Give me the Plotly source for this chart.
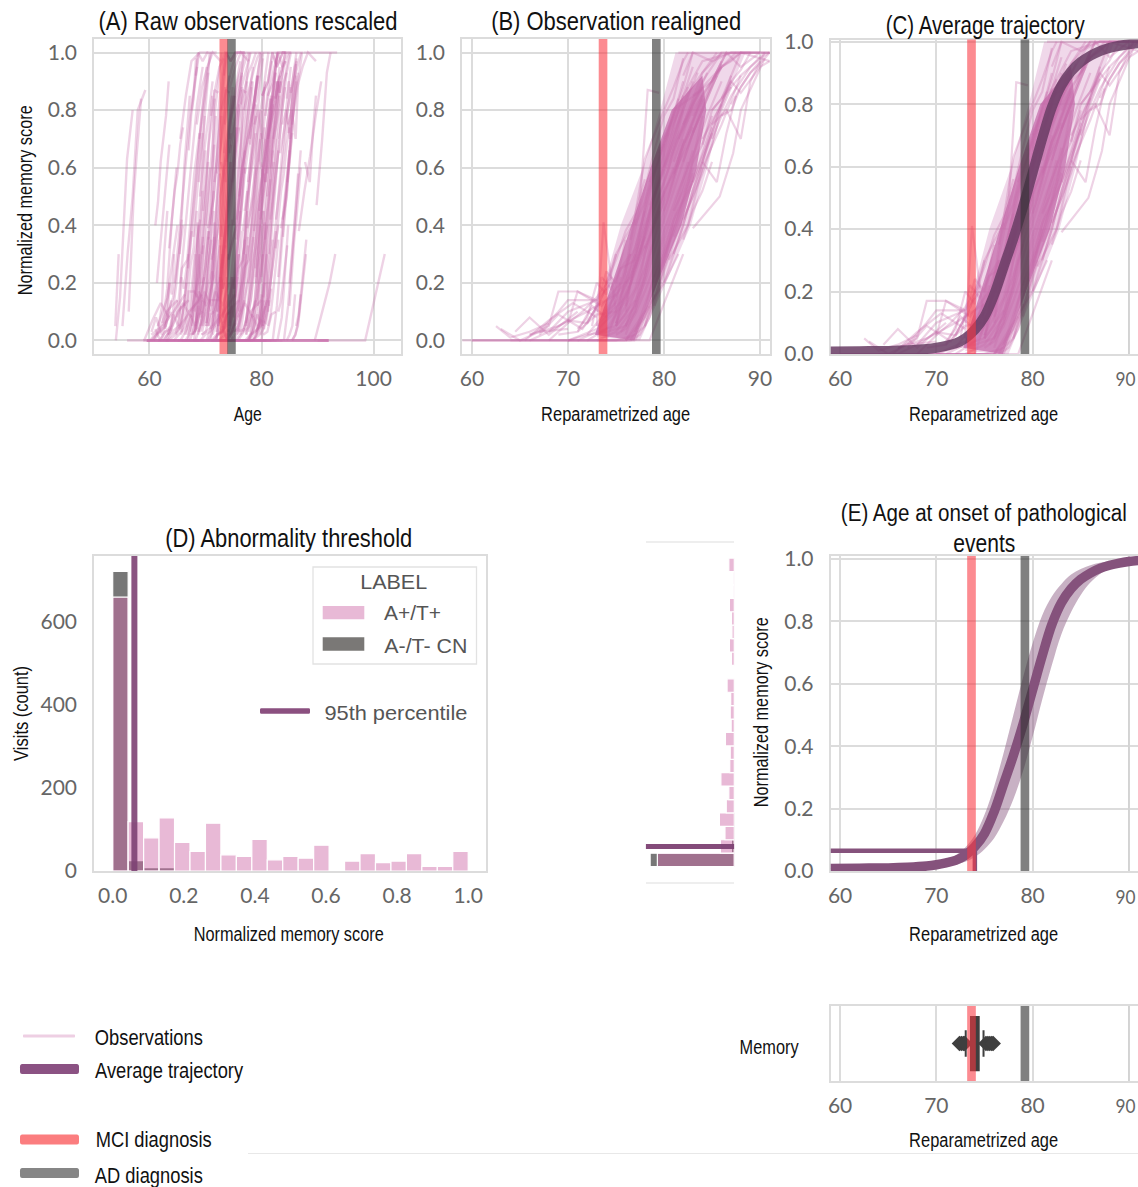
import json
import plotly.graph_objects as go

W, H = 1138, 1187

# ---- data ----
mci_band_raw = [72.5, 74.0]
ad_band_raw = [73.9, 75.4]
mci_band = [73.2, 74.1]
ad_band = [78.75, 79.65]
threshold_score = 0.065
threshold_age = 74.0

visit_ages = [
[70,78.5,82],[76,80,81.5],[78.5,81.5,84,86],[75,77,79,81,84],[74,75.5,78,80],[76,78.2,79.5,81.5],[75,76.5],[80,82,84,87,90],
[77,79,81,83.5],[75,77,79,81],[76,78,80,82,84],[72,74.5,76.5,78.5],[70,73,75,77],[66,69,72,75],[68,70,71,73.5,75.5],[63,65,67,70],
[65.5,68,70.5,73],[71,72.5,74,75.5],[73,73.7,75],[74,75.5,77,79,80.5],[78,80,82,84,86],[79,81,83,85,87],[80.5,82.5,84,86,88],[83,85.8,87.2,88,90.5],
[84,85.5,86.5,87.5],[85,86.5,88,89,90.5],[81.5,84,87,91],[82,83,85,87,89,91],[83,85,86.5,88,90,91],[82,84,86,88,91],[60,64,68,72,76],[59,65,70,75,77],
[60,66,71,74,76.5],[64,68,72,75,77,78.5],[73,75,77,78,79.5],[75.5,77,78,79,80],[76,77.5,79,80.5,82],[76.5,78,79.5,81,82.5],[77,78.5,80,81.5,83],[77,79,81,83],
[78,79.5,81,82.5,84],[74,76,77.5,79,80.5,82],[75,76.5,78,79.5,81,82.5],[76,77,78.5,80,81.5,83],[77.5,78.5,79.5,80.5,82],[77,78,79,80,81,82],[76.5,77.5,78.3,79.5],[78.5,80,81.5,83,84.5],
[79,80.5,82,83.5,85,86.5],[80,81,82,83,84],[80,81.5,83,84.5,86],[81,82,83.5,85],[81,82.5,84,85.5],[81.5,83,84.5,86,87.5],[79.5,81,82.5,84,85.5],[78.5,80,81,82,83],
[80,81,82,82.5],[72,73.5,75,76.5,78],[73,74.5,76,77.5,79],[74,75,76,77,78],[75,76,77,78,79],[75,76,77,78,79,80],[76,77,78,79,80,81],[76,77,78,79],
[76.5,77.5,78.5,79.5,80.5],[70,72,74,76,78],[71,73,75,77],[69,71,73,75],[67,69,71.5,73.5],[66,68,70,73],[72.5,73.5,74.5,75.5,76.5],[73,74,75,76,77,78],
[79,80,81,82,83,84],[78,79,80,81,82,83],[79,80,81,82,83],[80,81,82,83,84,85],[81,82,83,84,85,86],[82,83,84,85,86,87],[83,84,85,86,87],[84,85,86,87,88,89],
[85,86,87,88,89,90,91],[86,87,88,90,91],[76,77,78.5,80],[75,76,77.5,79],
[66,68,69,71,73],[67,69,70,73,74.5],[62.5,64,66,68],[64.5,66,68,71],[68,70,72,74],[70,71.5,73,74.5],[71,72,73,74,75],[72,73,74,75,76],
[73,74,75,76,77],[74,75,76,77,78],[84,85,86,87,88],[85,86,87,88,89,90],[86,87,88,89,90.5],[83,84,85,86,87,88,89],[84,85,86,87,88,90],[87,88,89,90,91],
[83,84,85,86],[82,83,84,85,86],[81,82,83,84],[80,81,82,83],[79,80,81,82],[81,82,83,84,85],[82,83,84,85],[79,80,81,82,83,84],
]
visit_scores = [
[0,0,.3],[0,.2,.3],[.47,.7,.93,1],[.05,.3,.5,.8,.87],[0,.15,.63,.8],[.1,.5,.64,.84],[.05,.3],[.7,.85,.97,1,1],
[.25,.5,.72,.93],[.06,.18,.42,.6],[.05,.22,.5,.68,.85],[0,.05,.2,.42],[0,.04,.1,.3],[.02,.05,.1,.16],[0,.06,.17,.12,.2],[.04,0,.03,.04],
[0,.07,.13,.08],[.03,.12,.08,.22],[.05,.41,.1],[.08,.25,.28,.58,.72],[.2,.42,.62,.82,.95],[.22,.42,.55,.75,.9],[.28,.4,.6,.75,.92],[.39,.5,.65,.8,.98],
[.62,.55,.72,.85],[.75,.8,.7,.9,1],[1,1,1,1],[.92,1,.97,1,1,1],[.85,.9,1,.95,1,1],[.75,.88,.95,1,.97],[0,0,0,0,0],[0,0,0,0,0],
[0,0,0,0,0],[0,0,0,0,.02,.12],[0,.03,.12,.3,.45],[.03,.1,.24,.4,.52],[.02,.15,.35,.5,.7],[0,.1,.3,.45,.62],[0,.12,.3,.48,.66],[.03,.22,.38,.6],
[.05,.2,.4,.55,.78],[.04,.14,.3,.45,.6,.8],[.06,.2,.36,.55,.7,.88],[.12,.28,.44,.62,.8,.95],[.3,.45,.6,.7,.85],[.4,.48,.62,.7,.78,.9],[.35,.48,.87,.86],[.42,.55,.7,.82,.93],
[.4,.52,.66,.8,.9,1],[.45,.55,.68,.76,.84],[.38,.52,.64,.78,.9],[.36,.46,.6,.72],[.58,.68,.8,.92],[.7,.8,.88,.95,1],[.65,.76,.86,.93,1],[.55,.68,.78,.88,1],
[.8,.88,.97,1],[.02,.08,.16,.22,.36],[.05,.1,.15,.28,.4],[.1,.13,.19,.26,.33],[.05,.09,.17,.25,.35],[.02,.04,.09,.17,.26,.38],[0,.04,.08,.18,.28,.4],[0,.02,.05,.16],
[0,.02,.08,.2,.3],[0,.02,.03,.05,.2],[0,.03,.05,.14],[.02,.03,.09,.1],[.02,.09,.04,.14],[0,.03,.1,.14],[.05,.22,.18,.25,.3],[.03,.07,.14,.26,.32,.45],
[.5,.6,.68,.75,.83,.9],[.32,.42,.52,.58,.68,.74],[.2,.28,.38,.48,.58],[.2,.3,.4,.52,.62,.74],[.3,.4,.52,.62,.72,.82],[.42,.5,.58,.68,.8,.88],[.55,.62,.72,.82,.92],[.7,.76,.82,.9,.94,1],
[.8,.84,.88,.92,.95,.98,1],[.84,.9,.86,.95,.97],[.2,.32,.52,.68],[.15,.24,.46,.66],
[.02,.05,.17,.17,.14],[.03,.1,.14,.14,.2],[.05,.01,.03,.06],[.03,.08,.02,.1],[.03,.07,.06,.18],[.06,.1,.15,.22],[.04,.08,.2,.16,.3],[.06,.12,.24,.2,.35],
[.1,.2,.3,.36,.42],[.2,.28,.38,.44,.56],[.68,.8,.84,.92,1],[.7,.78,.8,.88,.93,.97],[.78,.85,.9,.95,1],[.78,.85,.9,.95,.97,1,1],[.9,.95,1,1,1,1],[.82,.88,.93,.96,1],
[.72,.8,.88,.96],[.62,.72,.8,.9,.97],[.62,.72,.82,.88],[.6,.7,.8,.9],[.66,.78,.84,.98],[.45,.52,.62,.68,.78],[.35,.45,.52,.62],[.12,.24,.34,.42,.5,.6],
]
subject_onsets = [99,91.5,90,57,56.5,57.5,55.5,65,68,64,72,75,78,69,73,80,67,71,74,79,66,83,70,76,85,82,86,72,78,84,74,82,85,66,63,77,81,69,85,73,68,80,75,83,70,62,77,84,71,79,86,67,76,82,74,69,81,72,65,78,83,70,75,87,80,73,66,84,77,71,68,81,76,64,85,72,79,74,83,78,70,80,63,82,
                  72,76,80,68,84,78,66,74,70,82,75,72,77,69,80,71,83,78,73,81,67,76,79,85]
subject_speeds = [1,1.5,3,2.2,2,2.5,2.5,2,1.8,2.4,1.6,2.1,2.6,1.5,1.9,2.3,1.7,2.8,2.2,1.6,2,2.5,1.4,2.7,1.8,2.2,1.6,2.4,1.9,2.1,2.3,1.8,2,1.5,2.6,2.2,1.7,2.4,2,1.9,2.7,1.6,2.3,1.8,2.5,2.1,1.7,2.2,2.6,1.9,1.5,2.4,2,2.8,1.6,2.3,1.9,2.1,1.7,2.5,2.2,1.8,2.6,2,1.6,2.3,1.9,2.7,2.1,1.5,2.4,1.8,2.2,2,2.6,1.7,2.3,1.9,2.5,1.6,2.1,2.8,1.8,2.4,
                  2,1.7,2.4,1.9,2.2,1.6,2.5,1.8,2.1,2.3,1.7,2.6,1.9,2,2.4,1.5,2.2,1.8,2.7,1.6,2.3,2,1.9,2.5]
# further subjects seen only in the raw panel: same score shapes, other ages (from the 9th subject on)
more_onsets_a = [74,70,79,66,81,72,76,68,82,75,71,78,65,80,73,69,77,81,74,67,79,72,76,70,83,75,80,71,78,73,81,77,70,74,79,68,82,76,72,80,75,69,78,83,71,77,73,81,67,79,74,70,82,76,72,80,68,75,78,71,83,73,77,69,81,74,79,72,76,80,70,78,74,82,71,77]
more_onsets_b = [80,76,72,82,69,78,74,81,71,77,83,68,75,79,73,82,70,76,80,72,78,67,84,74,71,81,76,69,79,73,83,75,71,78,72,81,66,77,74,82,70,79,76,72,80,68,83,75,78,71,81,73,77,70,84,74,79,67,82,76,72,80,75,78,69,83,71,77,73,81,76,79,72,80,74,70]
# low-score subjects, raw panel only (from the 58th subject on)
low_onsets_a = [78,66,85,71,82,68,75,87,64,80,73,84,69,77,72]
low_onsets_b = [70,83,74,88,67,79,86,72,81,65,76,69,84,75,80]
raw_flat_ages = [59.5, 92]
raw_flat_scores = [0, 0]

outer_ages = [73,77.5,80.2,82.8,84.5,86,88.5,81.2,79.6,77.8,75.5,73.8,73]
outer_scores = [.01,.0,.2,.4,.6,.8,1,1,.8,.6,.4,.2,.01]
core_ages = [72.8,76.9,79.3,81.8,83.4,84.4,84,80.8,78.6,76.6,74.6,72.8]
core_scores = [.02,.0,.2,.4,.6,.8,.92,.8,.6,.4,.2,.02]

traj_ages = [59,62,65,67,69,70,71,72,73,74,75,76,77,78,79,80,81,82,83,84,85,86,87,88,89,90,91]
traj_vals = [.008,.009,.01,.012,.016,.02,.026,.034,.05,.078,.12,.19,.28,.37,.47,.58,.69,.79,.86,.905,.935,.955,.97,.98,.987,.992,.995]
ci_upper = [.009,.01,.011,.014,.02,.025,.035,.05,.075,.115,.18,.27,.38,.5,.62,.73,.82,.88,.92,.95,.968,.98,.988,.993,.996,.998,.999]
ci_lower = [.007,.008,.009,.009,.011,.012,.016,.022,.03,.045,.07,.105,.16,.23,.32,.43,.55,.66,.76,.83,.885,.925,.952,.97,.982,.99,.992]

pos_counts = [660,119,80,128,69,47,115,39,35,76,27,35,31,62,0,24,42,20,24,42,11,11,47]
neg_counts = [722,25,8,8,0,0,0,0,0,0,0,0,0,0,0,0,0,0,0,0,0,0,0]
bin_centers = [(i + .5) / 23 for i in range(23)]
percentile_95 = 0.061

onset_q1, onset_median, onset_q3 = 73.6, 74.0, 74.4
onset_whiskers = [73.05, 74.9]
onset_fliers = [72.4, 72.6, 72.8, 72.95, 75.15, 75.35, 75.55, 75.75, 75.9]

# ---- styling ----
OBS = "rgba(200,105,170,0.3)"
CORE = "rgba(198,110,172,0.75)"
OUTER = "rgba(205,125,185,0.3)"
MCI = "rgba(250,55,65,0.58)"
AD = "rgba(50,50,50,0.62)"
TRAJ_C = "rgba(105,60,100,0.85)"
TRAJ_E = "#85527c"
GRID = "#dcdcdc"
TICK = "#666666"
SANS = "Liberation Sans"
TICKFONT = dict(family="Lato", size=21, color=TICK)

fig = go.Figure()

def px(x): return x / W
def py(y): return 1 - y / H

def axes(n, box, xr, yr, xt, yt, grid=True, xl=None):
    l, t, r, b = box
    s = "" if n == 1 else str(n)
    fig.layout["xaxis" + s] = dict(domain=[px(l), px(r)], range=xr, tickvals=xt, ticktext=xl or [str(v) for v in xt], showgrid=grid, gridcolor=GRID, gridwidth=1.5,
        zeroline=False, showline=True, mirror=True, linecolor=GRID, linewidth=1.5, ticks="outside", ticklen=5, tickcolor="rgba(0,0,0,0)",
        tickfont=TICKFONT, anchor="y" + s, automargin=False, layer="below traces", ticklabeloverflow="allow")
    fig.layout["yaxis" + s] = dict(domain=[py(b), py(t)], range=yr, tickvals=yt, showgrid=grid, gridcolor=GRID, gridwidth=1.5,
        zeroline=False, showline=True, mirror=True, linecolor=GRID, linewidth=1.5, ticks="outside", ticklen=11, tickcolor="rgba(0,0,0,0)",
        tickfont=TICKFONT, tickformat=".1f", anchor="x" + s, automargin=False, layer="below traces", ticklabeloverflow="allow")
    return "x" + s, "y" + s

SCORE_T = [0, .2, .4, .6, .8, 1]
REP_T = [60, 70, 80, 90]
REP_L = ["60", "70", "80", ""]
xa, ya = axes(1, (94, 39, 401, 354), [50.1, 104.9], [-.047, 1.047], [60, 80, 100], SCORE_T)
xb, yb = axes(2, (462, 39, 770, 354), [58.96, 91.04], [-.047, 1.047], REP_T, SCORE_T)
xc, yc = axes(3, (830.5, 39.5, 1138, 354), [59, 90.95], [0, 1.007], REP_T, SCORE_T, xl=REP_L)
xd, yd = axes(4, (94, 556, 486, 871), [-.0526, 1.05], [0, 759], [0, .2, .4, .6, .8, 1], [0, 200, 400, 600], grid=False, xl=["0.0", "0.2", "0.4", "0.6", "0.8", "1.0"])
xm, ym = axes(5, (645.7, 543, 734.3, 881.7), [760, 0], [-.049, 1.049], [], [], grid=False)
xe, ye = axes(6, (830.5, 556, 1138, 871), [59, 90.95], [0, 1.0096], REP_T, SCORE_T, xl=REP_L)
xs, ys = axes(7, (830.5, 1006, 1138, 1081), [59, 90.95], [-.5, .5], REP_T, [], xl=REP_L)
fig.layout.yaxis4.tickformat = "d"
fig.layout.xaxis5.linecolor = "#eeeeee"
fig.layout.yaxis5.showline = False
fig.layout.yaxis7.showgrid = False

def line(x, y, xr, yr, color, width, **kw):
    fig.add_trace(go.Scatter(x=x, y=y, xaxis=xr, yaxis=yr, mode="lines", line=dict(color=color, width=width, **kw),
                             showlegend=False, hoverinfo="skip", cliponaxis=True))

# gridline at 90 on the three panels that end at the page edge
line([90, 90], [0, 1.007], xc, yc, "#d2d2d2", 1.5)
line([90, 90], [0, 1.0096], xe, ye, "#d2d2d2", 1.5)
line([90, 90], [-.5, .5], xs, ys, "#d2d2d2", 1.5)

# observations: realigned panels use visit ages; the raw panel maps them back per subject
for ages, scores, onset, speed in zip(visit_ages, visit_scores, subject_onsets, subject_speeds):
    line([onset + (a - 79) / speed for a in ages], scores, xa, ya, OBS, 2.4)
for more in (more_onsets_a, more_onsets_b):
    for ages, scores, onset, speed in zip(visit_ages[8:], visit_scores[8:], more, subject_speeds[8:]):
        line([onset + (a - 79) / speed for a in ages], scores, xa, ya, OBS, 2.4)
for more in (low_onsets_a, low_onsets_b):
    for ages, scores, onset, speed in zip(visit_ages[57:], visit_scores[57:], more, subject_speeds[57:]):
        line([onset + (a - 79) / speed for a in ages], scores, xa, ya, OBS, 2.4)
line(raw_flat_ages, raw_flat_scores, xa, ya, "rgba(200,105,170,0.75)", 3)
for xr, yr in ((xb, yb), (xc, yc)):
    for ax_, sc_, col_ in ((outer_ages, outer_scores, OUTER), (core_ages, core_scores, CORE)):
        fig.add_trace(go.Scatter(x=ax_, y=sc_, xaxis=xr, yaxis=yr, mode="none", fill="toself", fillcolor=col_,
                                 showlegend=False, hoverinfo="skip"))
    for ages, scores in zip(visit_ages, visit_scores):
        line(ages, scores, xr, yr, OBS, 2.2)

line(traj_ages, traj_vals, xc, yc, TRAJ_C, 10, shape="spline")

# histogram and mirrored marginal
for xr, yr, orient in ((xd, yd, "v"), (xm, ym, "h")):
    for counts, color in ((neg_counts, "rgb(119,119,119)"), (pos_counts, "rgba(206,106,168,0.47)")):
        fig.add_trace(go.Bar(x=bin_centers if orient == "v" else counts, y=counts if orient == "v" else bin_centers,
                             orientation=orient, width=1 / 23, xaxis=xr, yaxis=yr, marker=dict(color=color, line=dict(color="white", width=1.2)),
                             showlegend=False, hoverinfo="skip"))
fig.update_layout(barmode="overlay")
line([percentile_95, percentile_95], [0, 759], xd, yd, "rgba(125,65,115,0.9)", 6)
line([0, 760], [percentile_95 + .004, percentile_95 + .004], xm, ym, "rgba(125,65,115,0.95)", 5)

# panel E
line(traj_ages, ci_lower, xe, ye, "rgba(0,0,0,0)", 0, shape="spline")
fig.add_trace(go.Scatter(x=traj_ages, y=ci_upper, xaxis=xe, yaxis=ye, mode="lines", line=dict(color="rgba(0,0,0,0)", width=0, shape="spline"),
                         fill="tonexty", fillcolor="rgba(133,82,124,0.45)", showlegend=False, hoverinfo="skip"))
line(traj_ages, traj_vals, xe, ye, TRAJ_E, 9.5, shape="spline")
line([59, threshold_age, threshold_age], [threshold_score, threshold_score, 0], xe, ye, TRAJ_E, 4.5)

# onset box
fig.add_trace(go.Box(orientation="h", y=[0], q1=[onset_q1], median=[onset_median], q3=[onset_q3], lowerfence=[onset_whiskers[0]],
                     upperfence=[onset_whiskers[1]], width=.71, whiskerwidth=.5, xaxis=xs, yaxis=ys, fillcolor="#3f3f3f",
                     line=dict(color="#3f3f3f", width=2), boxpoints=False, showlegend=False, hoverinfo="skip"))
fig.add_trace(go.Scatter(x=onset_fliers, y=[0] * len(onset_fliers), xaxis=xs, yaxis=ys, mode="markers",
                         marker=dict(symbol="diamond", size=12, color="#3f3f3f"), showlegend=False, hoverinfo="skip"))

# diagnosis bands
shapes = []
def band(xr, yr, lim, color):
    shapes.append(dict(type="rect", xref=xr, yref=yr + " domain", x0=lim[0], x1=lim[1], y0=0, y1=1, fillcolor=color, line=dict(width=0), layer="above"))
band(xa, ya, mci_band_raw, MCI); band(xa, ya, ad_band_raw, AD)
for xr, yr in ((xb, yb), (xc, yc), (xe, ye), (xs, ys)):
    band(xr, yr, mci_band, MCI); band(xr, yr, ad_band, AD)

def rect(l, t, r, b, fill, lc=None):
    shapes.append(dict(type="rect", xref="paper", yref="paper", x0=px(l), x1=px(r), y0=py(b), y1=py(t), fillcolor=fill,
                       line=dict(color=lc or "rgba(0,0,0,0)", width=1.3 if lc else 0), layer="above"))

def pill(l, r, y, h, color):
    rad = h / 2
    k = [(l + rad, y - rad), (r - rad, y - rad), (r, y - rad), (r, y), (r, y + rad), (r - rad, y + rad), (l + rad, y + rad), (l, y + rad), (l, y), (l, y - rad), (l + rad, y - rad)]
    p = [(px(a), py(b)) for a, b in k]
    path = "M{0},{1} L{2},{3} ".format(*p[0], *p[1])
    path += "C{0},{1} {2},{3} {4},{5} ".format(*p[2], *p[2], *p[3])
    path += "C{0},{1} {2},{3} {4},{5} ".format(*p[4], *p[4], *p[5])
    path += "L{0},{1} ".format(*p[6])
    path += "C{0},{1} {2},{3} {4},{5} ".format(*p[7], *p[7], *p[8])
    path += "C{0},{1} {2},{3} {4},{5} Z".format(*p[9], *p[9], *p[10])
    shapes.append(dict(type="path", xref="paper", yref="paper", path=path, fillcolor=color, line=dict(width=0), layer="above"))

# legend of panel D
rect(313, 567, 476.5, 664, "rgba(255,255,255,0.9)", "#e2e2e2")
rect(322.7, 606, 364.3, 619.3, "#e8b9d6")
rect(322.7, 637.3, 364.3, 650.7, "#7a7876")
pill(260, 310, 711, 5.5, "#8b5080")
# figure legend
pill(23, 75, 1036, 3, "#eecfe3")
pill(20, 79, 1069, 10, "#8b5283")
pill(20, 79, 1139.5, 10, "#fb7d7f")
pill(20, 79, 1173, 10, "#868686")
shapes.append(dict(type="line", xref="paper", yref="paper", x0=px(248), x1=1, y0=py(1153.5), y1=py(1153.5), line=dict(color="#e8e8e8", width=1)))
fig.update_layout(shapes=shapes)

widths = {}
def text(s, x, y, size, w, color="#111111", angle=0, family=SANS):
    widths[s] = w
    fig.add_annotation(text=s, xref="paper", yref="paper", x=px(x), y=py(y), showarrow=False, textangle=angle, xanchor="center", yanchor="middle",
                       font=dict(family=family, size=size, color=color), borderpad=0, borderwidth=0)

TITLE = 26
text("(A) Raw observations rescaled", 247.5, 21, TITLE, 299)
text("(B) Observation realigned", 616, 21, TITLE, 250)
text("(C) Average trajectory", 984.5, 25, TITLE, 199)
text("(D) Abnormality threshold", 288.5, 538, TITLE, 247)
text("(E) Age at onset of pathological", 984, 513, 23, 286)
text("events", 984, 543, TITLE, 62)
LAB = 20
text("Age", 248, 414, LAB, 28)
text("Reparametrized age", 615.5, 414, LAB, 149)
text("Reparametrized age", 983, 414, LAB, 149)
text("Normalized memory score", 25, 201, LAB, 190, angle=-90)
text("Visits (count)", 21, 714, LAB, 95, angle=-90)
text("Normalized memory score", 288, 934, LAB, 190)
text("Normalized memory score", 761, 713, LAB, 190, angle=-90)
text("Reparametrized age", 983, 934, LAB, 149)
text("Reparametrized age", 983, 1140, LAB, 149)
text("Memory", 769, 1047, LAB, 59)
text("Observations", 149, 1037, 22, 108)
text("Average trajectory", 169, 1070, 22, 148)
text("MCI diagnosis", 153, 1139, 22, 116)
text("AD diagnosis", 149, 1175, 22, 108)
GL = "#555555"
text("LABEL", 393.5, 582, 21, 67, GL)
text("A+/T+", 412.5, 613, 21, 57, GL)
text("A-/T- CN", 425.5, 645, 21, 83, GL)
text("95th percentile", 395.5, 712, 21, 143, GL)
for tick_y in (378, 895.5, 1105):
    text("90", 1125.5, tick_y, 20, 20, TICK, family="Lato")

fig.update_layout(width=W, height=H, margin=dict(l=0, r=0, t=0, b=0), paper_bgcolor="white", plot_bgcolor="white", showlegend=False)
script = """
document.body.style.margin='0';
(function(){
  var M = %s;
  function f(){
    document.querySelectorAll('.annotation text').forEach(function(t){
      var w = M[t.textContent];
      if(w){ t.setAttribute('textLength', w); t.setAttribute('lengthAdjust','spacingAndGlyphs'); }
    });
  }
  f(); setTimeout(f,100); setTimeout(f,500); setTimeout(f,1500);
})();
""" % json.dumps(widths)
fig.write_html("out.html", post_script=script, config=dict(displayModeBar=False))
